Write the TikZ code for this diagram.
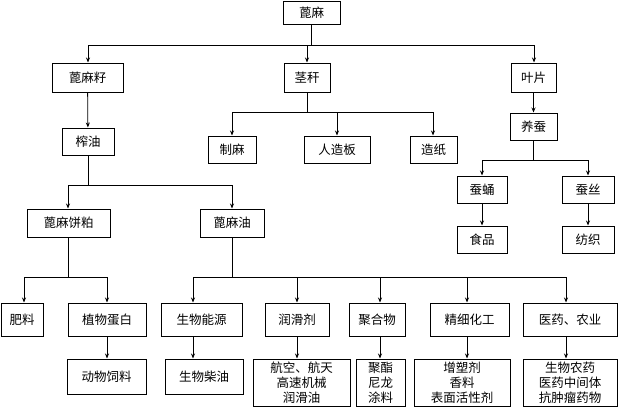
\documentclass[tikz,border=0pt]{standalone}
\usepackage{fontspec}
\setmainfont{Noto Sans CJK SC}
\usetikzlibrary{arrows.meta}
\begin{document}
\begin{tikzpicture}[x=1pt,y=-1pt,
  box/.style={draw,line width=1pt,inner sep=0pt,font=\fontsize{12.5}{15}\selectfont,align=center},
  arr/.style={line width=0.8pt,-{Stealth[length=5pt,width=4pt]}}]
\useasboundingbox (0,0) rectangle (640,408);
\newcommand\bx[6]{\node[box,minimum width=#4-#3,minimum height=#6-#5] (#1) at ({(#3+#4)/2},{(#5+#6)/2}) {#2};}
\bx{root}{蓖麻}{283}{340}{1}{24}
\bx{zi}{蓖麻籽}{52}{123}{63}{92}
\bx{jg}{茎秆}{284}{330}{63}{92}
\bx{yp}{叶片}{511}{556}{63}{92}
\bx{zy}{榨油}{62}{114}{128}{155}
\bx{zm}{制麻}{208}{256}{136}{163}
\bx{rzb}{人造板}{304}{370}{136}{163}
\bx{zz}{造纸}{410}{457}{136}{163}
\bx{yc}{养蚕}{510}{557}{113}{140}
\bx{cy}{蚕蛹}{457}{507}{176}{203}
\bx{cs}{蚕丝}{562}{614}{176}{203}
\bx{sp}{食品}{457}{507}{226}{253}
\bx{fz}{纺织}{562}{614}{226}{253}
\bx{bp}{蓖麻饼粕}{27}{110}{209}{237}
\bx{bmy}{蓖麻油}{200}{264}{209}{237}
\bx{fl}{肥料}{1}{43}{303}{336}
\bx{zwdb}{植物蛋白}{68}{146}{303}{336}
\bx{dwsl}{动物饲料}{67}{146}{359}{394}
\bx{swny}{生物能源}{161}{242}{303}{336}
\bx{rhj}{润滑剂}{265}{329}{303}{336}
\bx{jhw}{聚合物}{349}{405}{303}{336}
\bx{jxhg}{精细化工}{430}{509}{303}{336}
\bx{yy}{医药、农业}{523}{617}{303}{336}
\bx{swcy}{生物柴油}{165}{243}{359}{394}
\bx{hk}{航空、航天\\高速机械\\润滑油}{253}{350}{359}{406}
\bx{jz}{聚酯\\尼龙\\涂料}{356}{405}{359}{406}
\bx{zsj}{增塑剂\\香料\\表面活性剂}{414}{510}{359}{406}
\bx{swny2}{生物农药\\医药中间体\\抗肿瘤药物}{523}{617}{359}{406}
% buses
\foreach \c/\x in {zi/88,jg/307,yp/534}{\draw[arr] (root.south) -- (root.south |- 0,45) -| (\x,45) -- (\c.north -| \x,0);}
\draw[arr] (zi) -- (zy);
\foreach \c/\x in {zm/232,rzb/337,zz/433}{\draw[arr] (jg.south) -- (jg.south |- 0,112) -| (\x,112) -- (\c.north -| \x,0);}
\draw[arr] (yp) -- (yc);
\foreach \c/\x in {cy/482,cs/588}{\draw[arr] (yc.south) -- (yc.south |- 0,160) -| (\x,160) -- (\c.north -| \x,0);}
\draw[arr] (cy) -- (sp);
\draw[arr] (cs) -- (fz);
\foreach \c/\x in {bp/68,bmy/232}{\draw[arr] (zy.south) -- (zy.south |- 0,185) -| (\x,185) -- (\c.north -| \x,0);}
\foreach \c/\x in {fl/24,zwdb/107}{\draw[arr] (bp.south) -- (bp.south -| 68,0) -- (68,277) -| (\x,277) -- (\c.north -| \x,0);}
\draw[arr] (zwdb.south -| 107,0) -- (dwsl.north -| 107,0);
\foreach \c/\x in {swny/193,rhj/297,jhw/380,jxhg/467,yy/566}{\draw[arr] (bmy.south) -- (bmy.south |- 0,277) -| (\x,277) -- (\c.north -| \x,0);}
\draw[arr] (swny.south -| 193,0) -- (swcy.north -| 193,0);
\draw[arr] (rhj.south -| 297,0) -- (hk.north -| 297,0);
\draw[arr] (jhw.south -| 380,0) -- (jz.north -| 380,0);
\draw[arr] (jxhg.south -| 467,0) -- (zsj.north -| 467,0);
\draw[arr] (yy.south -| 566,0) -- (swny2.north -| 566,0);
\end{tikzpicture}
\end{document}
